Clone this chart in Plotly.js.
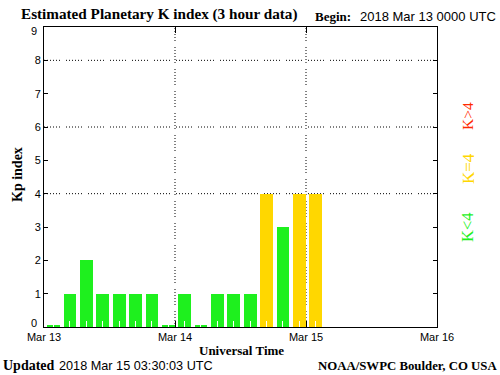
<!DOCTYPE html>
<html>
<head>
<meta charset="utf-8">
<script src="https://cdn.plot.ly/plotly-3.0.1.min.js"></script>
<style>
html,body{margin:0;padding:0;background:#fff;}
#chart{width:500px;height:375px;}
</style>
</head>
<body>
<div id="chart"></div>
<script>
// ---- data ----
var times = [
  '2018-03-13 00:00','2018-03-13 03:00','2018-03-13 06:00','2018-03-13 09:00',
  '2018-03-13 12:00','2018-03-13 15:00','2018-03-13 18:00','2018-03-13 21:00',
  '2018-03-14 00:00','2018-03-14 03:00','2018-03-14 06:00','2018-03-14 09:00',
  '2018-03-14 12:00','2018-03-14 15:00','2018-03-14 18:00','2018-03-14 21:00',
  '2018-03-15 00:00'
];
var kp = [0,1,2,1,1,1,1,0, 1,0,1,1,1,4,3,4, 4];
var dayTicks = ['2018-03-13','2018-03-14','2018-03-15','2018-03-16'];
var dayLabels = ['Mar 13','Mar 14','Mar 15','Mar 16'];
var yTicks = [0,1,2,3,4,5,6,7,8,9];
var gridLevels = [4,6,8];
var gridDays = ['2018-03-14','2018-03-15'];

// ---- styles ----
var GREEN = '#1ef01e', YELLOW = '#ffd700', RED = '#ff2a00';
function kpColor(v){ return v < 4 ? GREEN : (v === 4 ? YELLOW : RED); }
var HOUR = 3600000;
var dotDash = '1px,2px,1px,2px,1px,2px,1px,2px,1px,2px,1px,6px';

var trace = {
  type: 'bar',
  x: times,
  y: kp.map(function(v){ return v === 0 ? 0.06 : v; }),
  marker: {color: kp.map(kpColor), line: {width: 0}},
  width: 2.35 * HOUR,
  offset: 0.6 * HOUR,
  hoverinfo: 'skip'
};

var shapes = [];
gridLevels.forEach(function(g){
  shapes.push({type:'line', xref:'paper', x0:0, x1:1, yref:'y', y0:g, y1:g,
    line:{color:'#000', width:1, dash:dotDash}, layer:'below'});
});
gridDays.forEach(function(d){
  shapes.push({type:'line', yref:'paper', y0:0, y1:1, xref:'x', x0:d, x1:d,
    line:{color:'#000', width:1, dash:dotDash}, layer:'below'});
});

function px2x(p){ return (p - 44) / 393; }
function py2y(p){ return (327 - p) / 300; }

var serif = 'Liberation Serif, DejaVu Serif, serif';
var sans = 'Liberation Sans, Arial, sans-serif';

// end labels of the y axis sit slightly inside the plot, as in the reference
var yFirst = yTicks[0], yLast = yTicks[yTicks.length - 1];
var yTickText = yTicks.map(function(v){ return (v === yFirst || v === yLast) ? '' : String(v); });

var annotations = [
  {text:'<b>Estimated Planetary K index (3 hour data)</b>', x:px2x(19), y:py2y(14),
   xanchor:'left', yanchor:'middle', font:{family:serif, size:15.2, color:'#000'}},
  {text:'<b>Begin:</b>', x:px2x(313), y:py2y(16),
   xanchor:'left', yanchor:'middle', font:{family:serif, size:13, color:'#000'}},
  {text:'2018 Mar 13 0000 UTC', x:px2x(498), y:py2y(16),
   xanchor:'right', yanchor:'middle', font:{family:sans, size:13, color:'#000'}},
  {text:'<b>Kp index</b>', x:px2x(17), y:py2y(175), textangle:-90,
   xanchor:'center', yanchor:'middle', font:{family:serif, size:14, color:'#000'}},
  {text:'<b>Universal Time</b>', x:px2x(241), y:py2y(350),
   xanchor:'center', yanchor:'middle', font:{family:serif, size:13, color:'#000'}},
  {text:'<b>Updated</b>', x:px2x(1), y:py2y(366),
   xanchor:'left', yanchor:'middle', font:{family:serif, size:14, color:'#000'}},
  {text:'2018 Mar 15 03:30:03 UTC', x:px2x(57), y:py2y(366),
   xanchor:'left', yanchor:'middle', font:{family:sans, size:12.7, color:'#000'}},
  {text:'<b>NOAA/SWPC Boulder, CO USA</b>', x:px2x(499), y:py2y(366),
   xanchor:'right', yanchor:'middle', font:{family:serif, size:12.8, color:'#000'}},
  {text:'K&gt;4', x:px2x(468), y:py2y(116), textangle:-90,
   xanchor:'center', yanchor:'middle', font:{family:serif, size:15.5, color:RED}},
  {text:'K=4', x:px2x(468), y:py2y(169), textangle:-90,
   xanchor:'center', yanchor:'middle', font:{family:serif, size:17, color:YELLOW}},
  {text:'K&lt;4', x:px2x(468), y:py2y(228), textangle:-90,
   xanchor:'center', yanchor:'middle', font:{family:serif, size:16.5, color:GREEN}},
  {text:String(yLast), x:px2x(39), y:py2y(31),
   xanchor:'right', yanchor:'middle', font:{family:sans, size:11, color:'#000'}},
  {text:String(yFirst), x:px2x(39), y:py2y(323),
   xanchor:'right', yanchor:'middle', font:{family:sans, size:11, color:'#000'}}
];
annotations.forEach(function(a){ a.xref='paper'; a.yref='paper'; a.showarrow=false; });

var layout = {
  width: 500, height: 375,
  margin: {l:44, r:63, t:27, b:48, pad:0},
  paper_bgcolor: '#fff', plot_bgcolor: '#fff',
  showlegend: false,
  bargap: 0,
  xaxis: {
    type: 'date',
    range: [dayTicks[0], dayTicks[3]],
    tickmode: 'array', tickvals: dayTicks, ticktext: dayLabels,
    ticks: 'inside', ticklen: 6, tickcolor: '#000', tickwidth: 1,
    showline: true, linecolor: '#000', linewidth: 1, mirror: 'ticks',
    showgrid: false, zeroline: false,
    tickfont: {family: sans, size: 11, color: '#000'},
    minor: {ticks: 'inside', ticklen: 6, tickcolor: '#fff', tickwidth: 1,
            dtick: 3 * HOUR, tick0: '2018-03-13 01:45', showgrid: false},
    layer: 'above traces', fixedrange: true
  },
  yaxis: {
    range: [0, 9],
    tickmode: 'array', tickvals: yTicks, ticktext: yTickText,
    ticks: 'inside', ticklen: 4, tickcolor: '#000', tickwidth: 1,
    showline: true, linecolor: '#000', linewidth: 1, mirror: 'ticks',
    showgrid: false, zeroline: false,
    tickfont: {family: sans, size: 11, color: '#000'},
    layer: 'above traces', fixedrange: true
  },
  shapes: shapes,
  annotations: annotations
};

Plotly.newPlot('chart', [trace], layout, {displayModeBar: false, staticPlot: true});
</script>
</body>
</html>
